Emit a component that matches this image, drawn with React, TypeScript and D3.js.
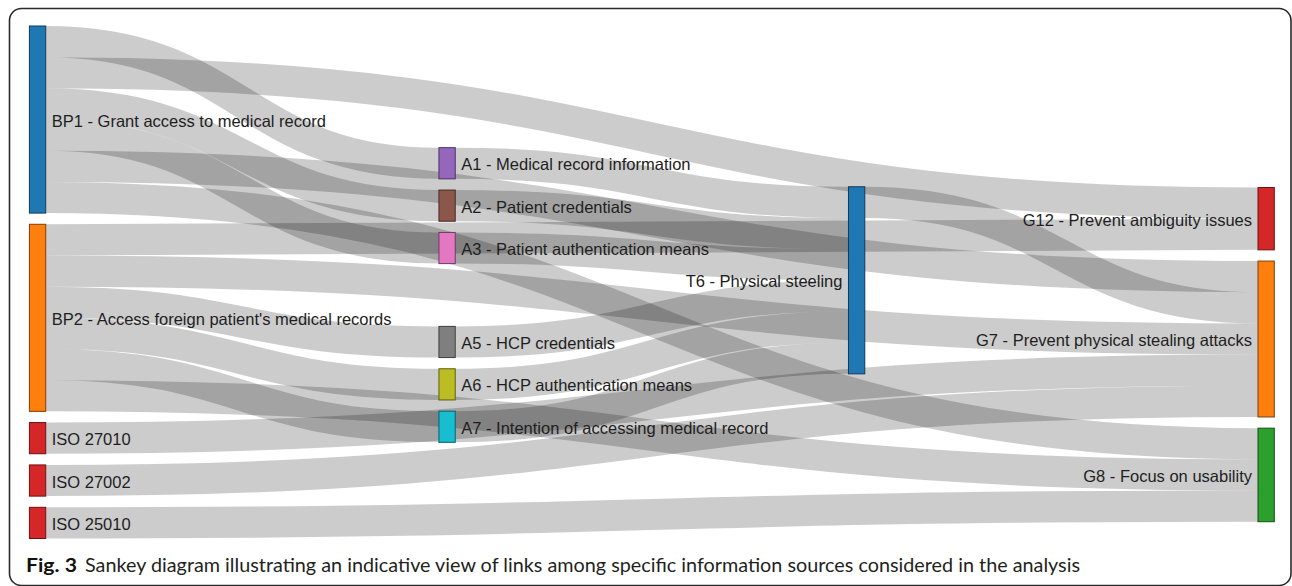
import React from 'react';
import * as d3 from 'd3';

// ---------- data ----------
const nodeIds = ['BP1', 'BP2', 'ISO27010', 'ISO27002', 'ISO25010', 'A1', 'A2', 'A3', 'A5', 'A6', 'A7', 'T6', 'G12', 'G7', 'G8'];
const nodeLabels = [
  'BP1 - Grant access to medical record',
  "BP2 - Access foreign patient's medical records",
  'ISO 27010',
  'ISO 27002',
  'ISO 25010',
  'A1 - Medical record information',
  'A2 - Patient credentials',
  'A3 - Patient authentication means',
  'A5 - HCP credentials',
  'A6 - HCP authentication means',
  'A7 - Intention of accessing medical record',
  'T6 - Physical steeling',
  'G12 - Prevent ambiguity issues',
  'G7 - Prevent physical stealing attacks',
  'G8 - Focus on usability',
];
const nodeColors = ['#1f77b4', '#ff7f0e', '#d62728', '#d62728', '#d62728', '#9467bd', '#8c564b', '#e377c2', '#7f7f7f', '#bcbd22', '#17becf', '#1f77b4', '#d62728', '#ff7f0e', '#2ca02c'];

const linkSources = ['BP1', 'BP1', 'BP1', 'BP1', 'BP1', 'BP1', 'BP2', 'BP2', 'BP2', 'BP2', 'BP2', 'BP2', 'ISO27010', 'ISO27002', 'ISO25010', 'A1', 'A2', 'A3', 'A5', 'A6', 'A7', 'T6'];
const linkTargets = ['A1', 'A2', 'A3', 'G12', 'G7', 'G8', 'A5', 'A6', 'A7', 'G12', 'G7', 'G8', 'G7', 'G7', 'G8', 'T6', 'T6', 'T6', 'T6', 'T6', 'T6', 'G7'];
const linkValues = [1, 1, 1, 1, 1, 1, 1, 1, 1, 1, 1, 1, 1, 1, 1, 1, 1, 1, 1, 1, 1, 1];

const captionBold = 'Fig. 3';
const captionText = 'Sankey diagram illustrating an indicative view of links among specific information sources considered in the analysis';

// ---------- layout (classic d3 sankey algorithm) ----------
type SNode = { id: string; name: string; color: string; sourceLinks: SLink[]; targetLinks: SLink[]; value: number; x: number; dx: number; y: number; dy: number };
type SLink = { source: SNode; target: SNode; value: number; dy: number; sy: number; ty: number };

function sankeyLayout(width: number, height: number, nodeWidth: number, nodePadding: number, iterations: number) {
  const nodes: SNode[] = nodeIds.map((id, i) => ({ id, name: nodeLabels[i], color: nodeColors[i], sourceLinks: [], targetLinks: [], value: 0, x: 0, dx: 0, y: 0, dy: 0 }));
  const byId = new Map(nodes.map((n) => [n.id, n]));
  const links: SLink[] = linkSources.map((s, i) => ({ source: byId.get(s)!, target: byId.get(linkTargets[i])!, value: linkValues[i], dy: 0, sy: 0, ty: 0 }));
  links.forEach((l) => { l.source.sourceLinks.push(l); l.target.targetLinks.push(l); });
  nodes.forEach((n) => { n.value = Math.max(d3.sum(n.sourceLinks, (l) => l.value), d3.sum(n.targetLinks, (l) => l.value)); });

  // breadths
  let remaining: SNode[] = nodes;
  let x = 0;
  while (remaining.length) {
    const next: SNode[] = [];
    remaining.forEach((n) => { n.x = x; n.dx = nodeWidth; n.sourceLinks.forEach((l) => { if (!next.includes(l.target)) next.push(l.target); }); });
    remaining = next;
    ++x;
  }
  nodes.forEach((n) => { if (!n.sourceLinks.length) n.x = x - 1; });
  const kx = (width - nodeWidth) / (x - 1);
  nodes.forEach((n) => { n.x *= kx; });

  // depths
  const columns = d3.groups(nodes, (n) => n.x).sort((a, b) => a[0] - b[0]).map((g) => g[1]);
  const center = (n: SNode) => n.y + n.dy / 2;
  const ky = d3.min(columns, (col) => (height - (col.length - 1) * nodePadding) / d3.sum(col, (n) => n.value))!;
  columns.forEach((col) => col.forEach((n, i) => { n.y = i; n.dy = n.value * ky; }));
  links.forEach((l) => { l.dy = l.value * ky; });

  const resolveCollisions = () => {
    columns.forEach((col) => {
      let y0 = 0;
      col.sort((a, b) => a.y - b.y);
      let node: SNode = col[0];
      for (let i = 0; i < col.length; ++i) {
        node = col[i];
        const dy = y0 - node.y;
        if (dy > 0) node.y += dy;
        y0 = node.y + node.dy + nodePadding;
      }
      let dy = y0 - nodePadding - height;
      if (dy > 0) {
        y0 = node.y -= dy;
        for (let i = col.length - 2; i >= 0; --i) {
          node = col[i];
          dy = node.y + node.dy + nodePadding - y0;
          if (dy > 0) node.y -= dy;
          y0 = node.y;
        }
      }
    });
  };
  const relaxLeftToRight = (alpha: number) => {
    columns.forEach((col) => col.forEach((n) => {
      if (n.targetLinks.length) {
        const y = d3.sum(n.targetLinks, (l) => center(l.source) * l.value) / d3.sum(n.targetLinks, (l) => l.value);
        n.y += (y - center(n)) * alpha;
      }
    }));
  };
  const relaxRightToLeft = (alpha: number) => {
    columns.slice().reverse().forEach((col) => col.forEach((n) => {
      if (n.sourceLinks.length) {
        const y = d3.sum(n.sourceLinks, (l) => center(l.target) * l.value) / d3.sum(n.sourceLinks, (l) => l.value);
        n.y += (y - center(n)) * alpha;
      }
    }));
  };
  resolveCollisions();
  let alpha = 1;
  for (let it = iterations; it > 0; --it) {
    relaxRightToLeft((alpha *= 0.99));
    resolveCollisions();
    relaxLeftToRight(alpha);
    resolveCollisions();
  }

  // link depths
  nodes.forEach((n) => {
    n.sourceLinks.sort((a, b) => a.target.y - b.target.y);
    n.targetLinks.sort((a, b) => a.source.y - b.source.y);
  });
  nodes.forEach((n) => {
    let sy = 0, ty = 0;
    n.sourceLinks.forEach((l) => { l.sy = sy; sy += l.dy; });
    n.targetLinks.forEach((l) => { l.ty = ty; ty += l.dy; });
  });
  return { nodes, links };
}

const W = 1292;
const H = 586;
const OX = 29.4;
const OY = 26;
const SW = 1244.9;
const SH = 512.5;
const NODE_W = 16.3;

export default function App() {
  const { nodes, links } = sankeyLayout(SW, SH, NODE_W, 11.2, 32);
  const linkGen = d3.linkHorizontal<any, [number, number]>();
  const labelFont = '"Liberation Sans", Arial, sans-serif';
  return (
    <>
      <style>{'body{margin:0}'}</style>
      <svg width={W} height={H} style={{ display: 'block' }}>
        <rect x={0} y={0} width={W} height={H} fill="#fff" />
        <rect x={9.5} y={8.5} width={1281.5} height={577} rx={12} ry={12} fill="#fff" stroke="#2a2a2a" strokeWidth={1.6} />
        <g transform={`translate(${OX},${OY})`}>
          <g fill="none" stroke="#000" strokeOpacity={0.2}>
            {links.map((l, i) => {
              const sx = l.source.x + l.source.dx;
              const tx = l.target.x;
              const sy = l.source.y + l.sy + l.dy / 2;
              const ty = l.target.y + l.ty + l.dy / 2;
              return <path key={i} d={linkGen({ source: [sx, sy], target: [tx, ty] }) || ''} strokeWidth={Math.max(1, l.dy)} />;
            })}
          </g>
          <g>
            {nodes.map((n) => (
              <g key={n.id} transform={`translate(${n.x},${n.y})`}>
                <rect width={n.dx} height={n.dy} fill={n.color} stroke={d3.rgb(n.color).darker(2).toString()} strokeWidth={1} />
                <text
                  x={n.x < SW / 2 ? 6 + n.dx : -6}
                  y={n.dy / 2}
                  dy="0.43em"
                  textAnchor={n.x < SW / 2 ? 'start' : 'end'}
                  fontFamily={labelFont}
                  fontSize={16.5}
                  fill="#1e1e1e"
                >
                  {n.name}
                </text>
              </g>
            ))}
          </g>
        </g>
        <text x={26} y={572} fontFamily="Lato, 'Open Sans', sans-serif" fontWeight={700} fontSize={19} fill="#111" textLength={51} lengthAdjust="spacingAndGlyphs">
          {captionBold}
        </text>
        <text x={85} y={572} fontFamily="Lato, 'Open Sans', sans-serif" fontSize={19} fill="#231f20" textLength={995} lengthAdjust="spacingAndGlyphs">
          {captionText}
        </text>
      </svg>
    </>
  );
}
